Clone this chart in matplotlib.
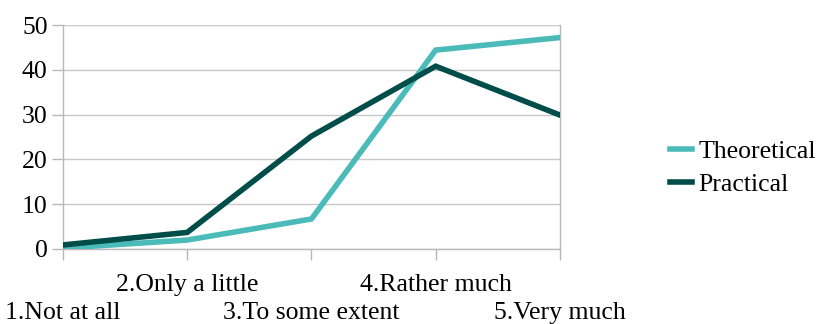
import matplotlib.pyplot as plt

categories = ['1.Not at all', '2.Only a little', '3.To some extent',
              '4.Rather much', '5.Very much']
theoretical = [0.2, 2.0, 6.7, 44.4, 47.2]
practical = [0.9, 3.7, 25.2, 40.8, 29.9]

plt.rcParams['font.family'] = ['Liberation Serif', 'DejaVu Serif']

fig = plt.figure(figsize=(8.18, 3.24), dpi=100)
ax = fig.add_axes([0.077, 0.2315, 0.6075, 0.6913])

x = list(range(len(categories)))
ax.plot(x, theoretical, color='#4BBBB9', lw=4, label='Theoretical',
        solid_joinstyle='miter', zorder=3)
ax.plot(x, practical, color='#004D4A', lw=4, label='Practical',
        solid_joinstyle='miter', zorder=3)

ax.set_xlim(0, 4)
ax.set_ylim(0, 50)
ax.set_yticks([0, 10, 20, 30, 40, 50])
ax.yaxis.grid(True, color='#c8c8c8', lw=1)
ax.set_axisbelow(True)

ax.spines['top'].set_visible(False)
for side in ['left', 'right', 'bottom']:
    ax.spines[side].set_color('#b8b8b8')
    ax.spines[side].set_linewidth(1)

ax.set_xticks(x)
ax.set_xticklabels(categories)
ax.tick_params(axis='both', colors='#b8b8b8', labelcolor='black',
               labelsize=18.5, length=8, width=1)
ax.tick_params(axis='y', pad=3)
# stagger the category labels on two rows
for i, t in enumerate(ax.xaxis.get_major_ticks()):
    t.set_pad(10 if i % 2 == 1 else 30)

ax.legend(loc='center left', bbox_to_anchor=(1.186, 0.36), frameon=False,
          fontsize=18.5, handlelength=0.85, handletextpad=0.25,
          labelspacing=0.4, borderpad=0.2)

fig.savefig('out.png', dpi=100)
